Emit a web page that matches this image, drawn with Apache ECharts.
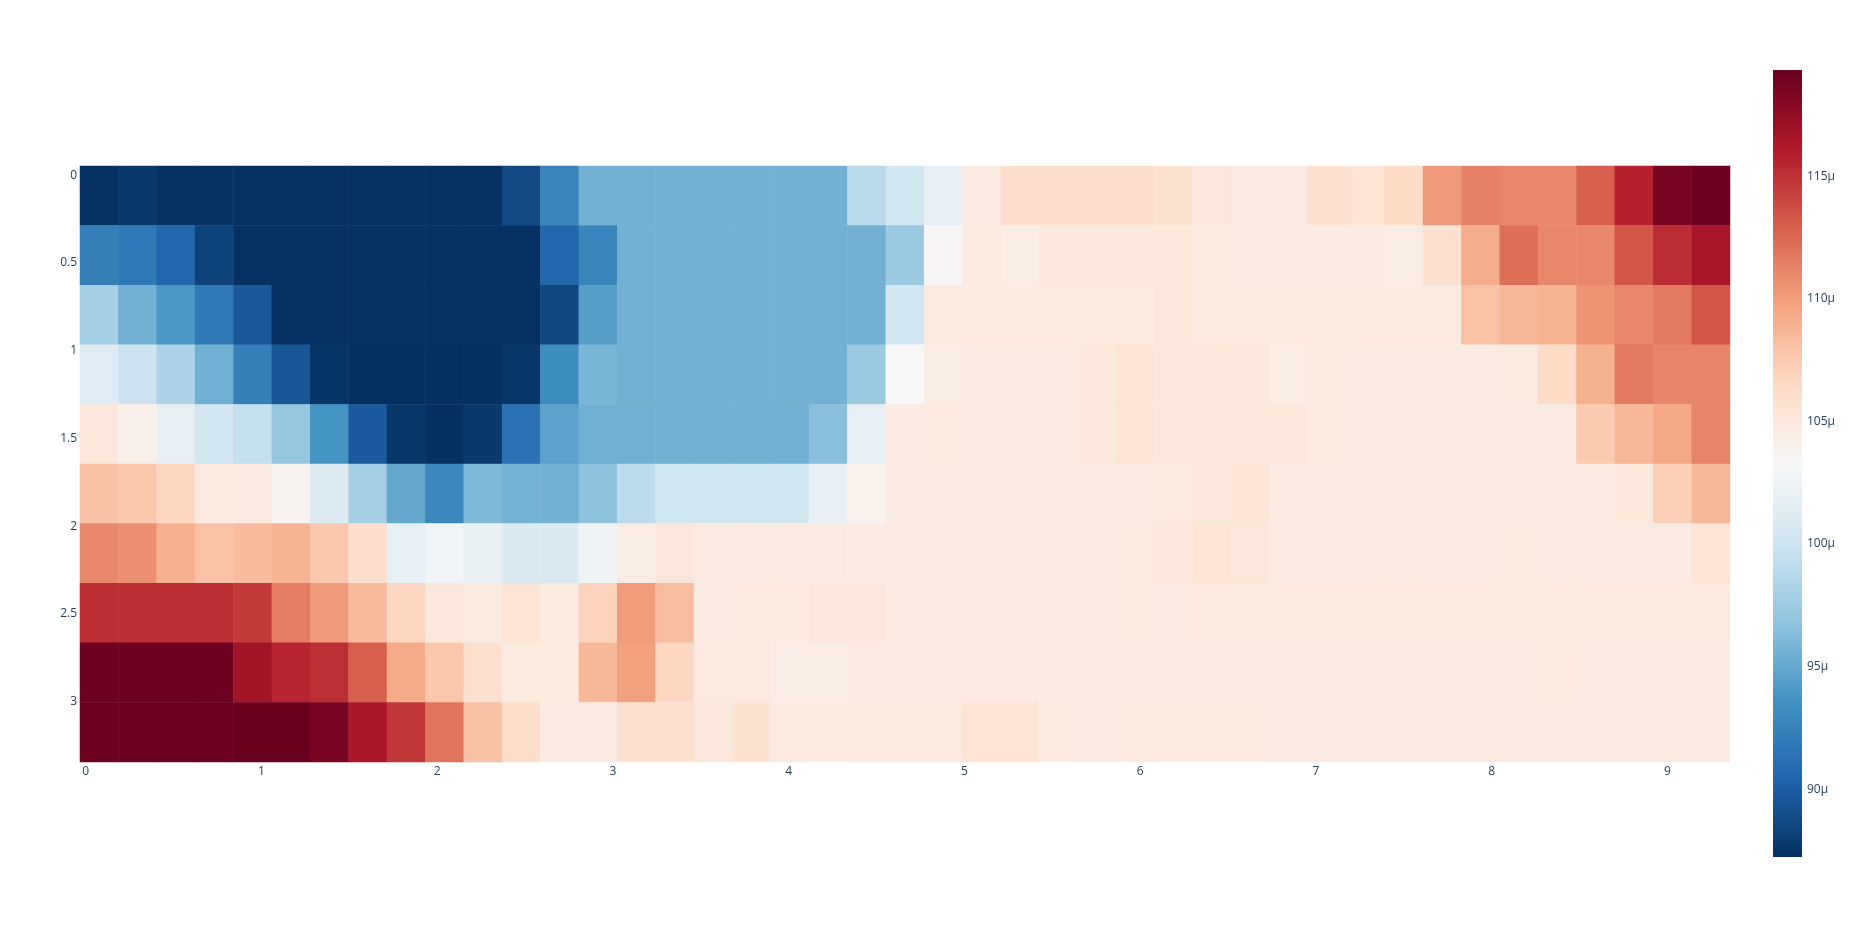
<!DOCTYPE html>
<html>
<head>
<meta charset="utf-8">
<title>heatmap</title>
<script src="https://cdn.jsdelivr.net/npm/echarts@6/dist/echarts.min.js"></script>
<style>
  html, body { margin: 0; padding: 0; background: #fff; }
  #main { width: 1856px; height: 948px; }
</style>
</head>
<body>
<div id="main"></div>
<script>
// values per row (top row first), in μ units, 43 cells each
const row0 = [87.3, 87.7, 87.3, 87.3, 87.3, 87.3, 87.3, 87.3, 87.3, 87.3, 87.3, 88.8, 92.6, 95.6, 95.6, 95.6, 95.6, 95.6, 95.6, 95.6, 98.9, 100.2, 101.9, 104.7, 106.0, 106.0, 106.0, 106.0, 105.6, 105.1, 104.7, 104.7, 105.9, 105.5, 106.4, 110.2, 111.4, 111.1, 111.1, 112.9, 115.8, 118.6, 119.1];
const row1 = [92.3, 91.8, 90.5, 88.3, 87.3, 87.3, 87.3, 87.3, 87.3, 87.3, 87.3, 87.3, 90.5, 92.7, 95.6, 95.6, 95.6, 95.6, 95.6, 95.6, 95.6, 97.3, 103.5, 104.9, 104.6, 105.0, 105.0, 105.0, 105.0, 104.9, 104.7, 104.7, 104.7, 104.7, 104.6, 105.9, 109.2, 112.2, 111.1, 111.1, 113.3, 115.2, 116.5];
const row2 = [98.0, 95.6, 93.9, 91.8, 89.6, 87.3, 87.3, 87.3, 87.3, 87.3, 87.3, 87.3, 88.6, 94.4, 95.6, 95.6, 95.6, 95.6, 95.6, 95.6, 95.6, 100.2, 104.9, 104.8, 104.8, 104.8, 104.8, 104.8, 105.0, 104.8, 104.8, 104.8, 104.8, 104.8, 104.8, 104.8, 108.0, 108.6, 108.8, 110.5, 111.1, 111.7, 113.3];
const row3 = [101.3, 99.9, 98.3, 95.5, 92.3, 89.5, 87.5, 87.25, 87.25, 87.25, 87.25, 87.6, 93.2, 95.9, 95.6, 95.6, 95.6, 95.6, 95.6, 95.6, 97.3, 103.3, 104.6, 104.7, 104.7, 104.7, 105.0, 105.5, 105.1, 105.0, 105.0, 104.6, 104.8, 104.7, 104.7, 104.7, 104.7, 104.8, 106.4, 109.0, 111.7, 111.2, 111.2];
const row4 = [105.1, 104.2, 101.9, 100.3, 99.5, 97.1, 93.7, 89.8, 87.6, 87.25, 87.8, 91.3, 94.6, 95.5, 95.5, 95.6, 95.6, 95.6, 95.5, 96.5, 101.9, 104.7, 104.9, 104.7, 104.7, 104.7, 105.0, 105.5, 105.1, 105.1, 105.0, 105.0, 104.8, 104.7, 104.7, 104.7, 104.7, 104.7, 104.7, 107.5, 108.6, 109.5, 111.2];
const row5 = [108.1, 107.7, 106.7, 104.9, 104.7, 103.7, 101.0, 97.9, 95.0, 92.8, 96.1, 95.7, 95.6, 96.7, 99.1, 100.2, 100.2, 100.2, 100.2, 101.9, 104.0, 104.7, 104.7, 104.7, 104.7, 104.7, 104.7, 104.7, 104.9, 105.1, 105.4, 104.7, 104.7, 104.7, 104.7, 104.7, 104.7, 104.7, 104.7, 104.7, 105.0, 107.2, 108.6];
const row6 = [111.1, 110.7, 109.1, 108.0, 108.4, 108.8, 107.6, 106.0, 101.8, 102.7, 102.0, 100.9, 100.9, 102.6, 104.5, 105.1, 104.7, 104.7, 104.7, 104.7, 104.7, 104.7, 104.7, 104.7, 104.7, 104.7, 104.7, 104.9, 105.0, 105.5, 105.1, 104.7, 104.7, 104.7, 104.7, 104.7, 104.7, 104.8, 104.7, 104.7, 104.7, 104.7, 105.5];
const row7 = [115.2, 115.2, 115.2, 115.2, 114.6, 111.5, 110.2, 108.4, 106.7, 105.0, 104.8, 105.5, 104.8, 106.9, 110.1, 108.3, 104.7, 104.8, 104.8, 105.0, 105.0, 104.7, 104.7, 104.7, 104.7, 104.7, 104.7, 104.8, 104.7, 104.9, 104.8, 104.8, 104.8, 104.8, 104.8, 104.8, 104.8, 104.8, 104.8, 104.8, 104.8, 104.8, 104.8];
const row8 = [119.1, 119.1, 119.1, 119.1, 116.7, 115.6, 115.1, 112.9, 109.4, 107.7, 105.9, 104.8, 104.8, 108.6, 109.9, 106.7, 104.9, 104.9, 104.5, 104.6, 104.7, 104.7, 104.7, 104.7, 104.7, 104.7, 104.7, 104.7, 104.7, 104.7, 104.7, 104.7, 104.7, 104.7, 104.7, 104.7, 104.7, 104.7, 104.8, 104.7, 104.7, 104.7, 104.7];
const row9 = [119.1, 119.1, 119.1, 119.1, 119.3, 119.3, 118.6, 116.4, 114.8, 112.0, 108.1, 106.2, 104.7, 104.7, 105.9, 105.9, 105.1, 105.6, 104.9, 104.8, 104.9, 104.9, 104.9, 105.5, 105.5, 104.8, 104.7, 104.8, 104.8, 104.8, 104.8, 104.7, 104.7, 104.7, 104.7, 104.7, 104.7, 104.7, 104.7, 104.7, 104.7, 104.7, 104.7];
const rows = [row0, row1, row2, row3, row4, row5, row6, row7, row8, row9];

// tick labels
const xTicks = [0, 1, 2, 3, 4, 5, 6, 7, 8, 9];
const yTicks = [0, 0.5, 1, 1.5, 2, 2.5, 3];
const cbTicks = [90, 95, 100, 105, 110, 115];

// RdBu, low -> high
const rdbu = ['#053061', '#2166ac', '#4393c3', '#92c5de', '#d1e5f0', '#f7f7f7',
  '#fddbc7', '#f4a582', '#d6604d', '#b2182b', '#67001f'];
const vMin = 87.24;
const vMax = 119.33;

const textColor = '#2a3f5f';
const font = 'Open Sans, Arial, sans-serif';

let cells = [];
rows.forEach((r, yi) => {
  r.forEach((v, xi) => cells.push([xi, yi, v]));
});
const xCats = row0.map((_, i) => i);
const yCats = rows.map((_, i) => i);

let chart = echarts.init(document.getElementById('main'));
let option = {
  animation: false,
  backgroundColor: '#fff',
  grid: [
    { left: 80, top: 166, width: 1650, height: 596 },
    { left: 1773, top: 70, width: 29, height: 787 }  // colorbar labels
  ],
  xAxis: [
    { type: 'category', gridIndex: 0, data: xCats, show: false },
    {
      type: 'value', gridIndex: 0, min: -0.032, max: 9.356, position: 'bottom',
      axisLine: { show: false }, axisTick: { show: false }, splitLine: { show: false },
      axisLabel: { customValues: xTicks, margin: 4, color: textColor, fontSize: 12, fontFamily: font }
    },
    { type: 'value', gridIndex: 1, show: false }
  ],
  yAxis: [
    { type: 'category', gridIndex: 0, data: yCats, inverse: true, show: false, position: 'left' },
    {
      type: 'value', gridIndex: 0, min: -0.053, max: 3.343, inverse: true,
      position: 'left', offset: 0,
      axisLine: { show: false }, axisTick: { show: false }, splitLine: { show: false },
      axisLabel: { customValues: yTicks, margin: 3, color: textColor, fontSize: 12, fontFamily: font }
    },
    {
      type: 'value', gridIndex: 1, min: vMin, max: vMax, position: 'right',
      axisLine: { show: false }, axisTick: { show: false }, splitLine: { show: false },
      axisLabel: {
        customValues: cbTicks, margin: 5, color: textColor, fontSize: 12, fontFamily: font,
        formatter: v => v + 'μ'
      }
    }
  ],
  visualMap: {
    type: 'continuous', show: false, seriesIndex: 0, dimension: 2,
    min: vMin, max: vMax, inRange: { color: rdbu }
  },
  graphic: [
    {
      // colorbar strip
      type: 'rect', left: 1773, top: 70, z: 0,
      shape: { width: 29, height: 787 },
      style: {
        fill: new echarts.graphic.LinearGradient(0, 0, 0, 1,
          rdbu.slice().reverse().map((c, i) => ({ offset: i / (rdbu.length - 1), color: c })))
      }
    }
  ],
  series: [
    {
      type: 'heatmap', xAxisIndex: 0, yAxisIndex: 0,
      data: cells, progressive: 0,
      itemStyle: { borderWidth: 0 },
      emphasis: { disabled: true }
    }
  ]
};
option && chart.setOption(option);
</script>
</body>
</html>
